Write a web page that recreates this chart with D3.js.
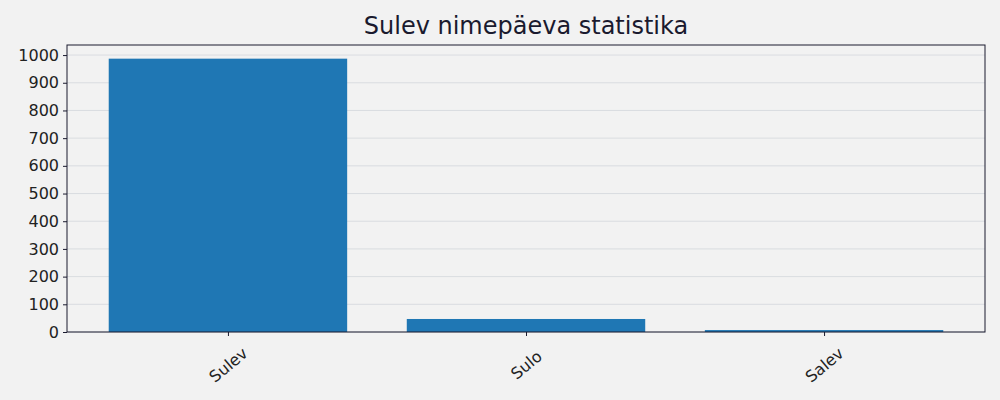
<!DOCTYPE html>
<html lang="et">
<head>
<meta charset="UTF-8">
<title>Sulev nimepäeva statistika</title>
<script src="https://cdnjs.cloudflare.com/ajax/libs/d3/7.8.5/d3.min.js"></script>
<style>
    body { margin: 0; background: #f2f2f2; font-family: "DejaVu Sans", sans-serif; }
    svg { display: block; }
</style>
</head>
<body>
<svg id="chart" width="1000" height="400"></svg>
<script>
    const names = ["Sulev", "Sulo", "Salev"];
    const counts = [987, 47, 7];
    const yTicks = [0, 100, 200, 300, 400, 500, 600, 700, 800, 900, 1000];

    const W = 1000, H = 400;
    const margin = { top: 45, right: 15, bottom: 68, left: 67 };
    const iw = W - margin.left - margin.right;
    const ih = H - margin.top - margin.bottom;

    const svg = d3.select("#chart");
    svg.append("rect").attr("width", W).attr("height", H).attr("fill", "#f2f2f2");

    const g = svg.append("g").attr("transform", `translate(${margin.left},${margin.top})`);

    // matplotlib-like: bar width 0.8, 5% margin on x
    const x = d3.scaleLinear().domain([-0.54, names.length - 1 + 0.54]).range([0, iw]);
    const y = d3.scaleLinear().domain([0, d3.max(counts) * 1.05]).range([ih, 0]);

    // grid
    g.append("g")
        .selectAll("line")
        .data(yTicks)
        .enter()
        .append("line")
        .attr("x1", 0).attr("x2", iw)
        .attr("y1", d => y(d)).attr("y2", d => y(d))
        .attr("stroke", "#d3d7dc")
        .attr("stroke-width", 0.8);

    // bars
    g.append("g")
        .selectAll("rect")
        .data(counts)
        .enter()
        .append("rect")
        .attr("x", (d, i) => x(i - 0.4))
        .attr("width", x(0.8) - x(0))
        .attr("y", d => y(d))
        .attr("height", d => ih - y(d))
        .attr("fill", "#1f77b4");

    // y axis
    const yAxis = g.append("g")
        .call(d3.axisLeft(y).tickValues(yTicks).tickFormat(d3.format("d")).tickSize(4).tickPadding(4));
    yAxis.select(".domain").remove();
    yAxis.selectAll("text").attr("font-size", 16).attr("fill", "#222")
        .attr("font-family", "DejaVu Sans, sans-serif");
    yAxis.selectAll("line").attr("stroke", "#1a1a2e");

    // x axis
    const xAxis = g.append("g")
        .attr("transform", `translate(0,${ih})`)
        .call(d3.axisBottom(x).tickValues(d3.range(names.length)).tickFormat(i => names[i]).tickSize(4));
    xAxis.select(".domain").remove();
    xAxis.selectAll("line").attr("stroke", "#1a1a2e");
    xAxis.selectAll("text")
        .attr("font-size", 16)
        .attr("fill", "#222")
        .attr("font-family", "DejaVu Sans, sans-serif")
        .attr("text-anchor", "middle")
        .attr("dy", null)
        .attr("y", 0)
        .attr("dominant-baseline", "central")
        .attr("transform", "translate(0,33) rotate(-40)");

    // frame
    g.append("rect")
        .attr("width", iw).attr("height", ih)
        .attr("fill", "none")
        .attr("stroke", "#1a1a2e")
        .attr("stroke-width", 1);

    // title
    svg.append("text")
        .attr("x", margin.left + iw / 2)
        .attr("y", 26)
        .attr("text-anchor", "middle")
        .attr("dominant-baseline", "central")
        .attr("font-size", 24)
        .attr("fill", "#1a1a2e")
        .attr("font-family", "DejaVu Sans, sans-serif")
        .text("Sulev nimepäeva statistika");
</script>
</body>
</html>
